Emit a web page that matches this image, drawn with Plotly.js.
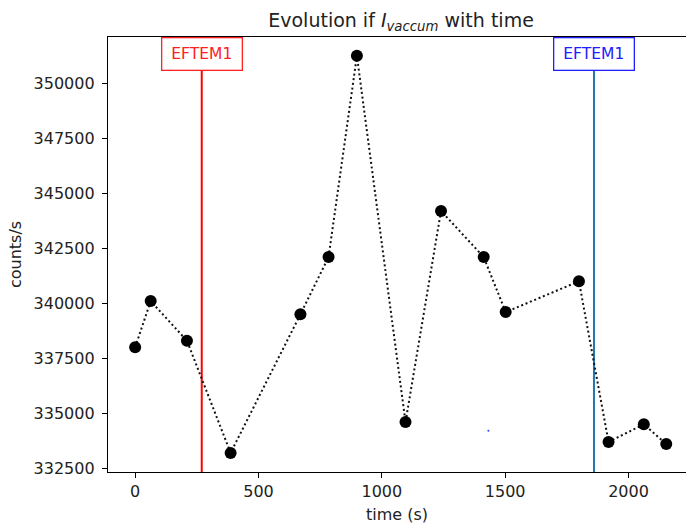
<!DOCTYPE html>
<html>
<head>
<meta charset="utf-8">
<script src="https://cdn.plot.ly/plotly-3.0.1.min.js"></script>
<style>html,body{margin:0;padding:0;overflow:hidden;background:#fff}#chart{width:686px;height:524px}</style>
</head>
<body>
<div id="chart"></div>
<script>
// Data
const timeS = [0, 63, 210, 387, 670, 784, 899, 1096, 1240, 1413, 1502, 1799, 1919, 2062, 2153];
const counts = [338000, 340100, 338300, 333200, 339500, 342100, 351250, 334600, 344200, 342100, 339600, 341000, 333700, 334500, 333600];
const markerTimes = [270, 1860];
const markerLabels = ['EFTEM1', 'EFTEM1'];
const markerColors = ['#ff0000', '#1f77b4'];
const labelColors = ['#ff2020', '#2020ff'];
const strayTime = [1432];
const strayCount = [334210];
const xTicks = [0, 500, 1000, 1500, 2000];
const yTicks = [332500, 335000, 337500, 340000, 342500, 345000, 347500, 350000];

const font = 'DejaVu Sans, sans-serif';

const traces = [
  {
    x: timeS, y: counts, type: 'scatter', mode: 'lines+markers',
    line: {color: '#111', width: 2, dash: '2px,2.7px'},
    marker: {color: '#000', size: 12},
    hoverinfo: 'skip', showlegend: false
  },
  {
    x: strayTime, y: strayCount, type: 'scatter', mode: 'markers',
    marker: {color: '#3344ff', size: 2},
    hoverinfo: 'skip', showlegend: false
  }
];

const shapes = markerTimes.map((t, i) => ({
  type: 'line', xref: 'x', yref: 'paper', x0: t, x1: t, y0: 0, y1: 1,
  line: {color: markerColors[i], width: 2}, layer: 'below'
}));

const annotations = markerTimes.map((t, i) => ({
  x: t, xref: 'x', y: 1, yref: 'paper', yanchor: 'top', xanchor: 'center',
  text: markerLabels[i], showarrow: false,
  font: {family: font, size: 15.5, color: labelColors[i]},
  bgcolor: '#ffffff', bordercolor: labelColors[i], borderwidth: 1.3,
  width: 79, height: 31, borderpad: 0
}));

const layout = {
  width: 686, height: 524,
  margin: {l: 108, r: 0, t: 37, b: 52},
  paper_bgcolor: '#fff', plot_bgcolor: '#fff',
  font: {family: font, size: 16, color: '#222'},
  title: {
    text: 'Evolution if <i>I</i><sub><i>vaccum</i></sub> with time',
    font: {family: font, size: 19, color: '#222'},
    x: 0.507, xref: 'paper', xanchor: 'center',
    y: 1 - 20 / 524, yref: 'container', yanchor: 'middle'
  },
  xaxis: {
    range: [-110, 2233], tickvals: xTicks, ticktext: xTicks.map(String),
    showgrid: false, zeroline: false,
    showline: true, linecolor: '#000', linewidth: 1.2, mirror: true,
    ticks: 'outside', ticklen: 5, tickwidth: 1, tickcolor: '#000',
    tickfont: {family: font, size: 16, color: '#222'},
    title: {text: 'time (s)', font: {family: font, size: 16, color: '#222'}, standoff: 8}
  },
  yaxis: {
    range: [332332, 352105], tickvals: yTicks, ticktext: yTicks.map(String),
    showgrid: false, zeroline: false,
    showline: true, linecolor: '#000', linewidth: 1.2, mirror: false,
    ticks: 'outside', ticklen: 5, tickwidth: 1, tickcolor: '#000',
    ticklabelstandoff: 4,
    tickfont: {family: font, size: 16, color: '#222'},
    title: {text: 'counts/s', font: {family: font, size: 16, color: '#222'}, standoff: 8}
  },
  shapes: shapes,
  annotations: annotations
};

Plotly.newPlot('chart', traces, layout, {displayModeBar: false, staticPlot: true});
</script>
</body>
</html>
